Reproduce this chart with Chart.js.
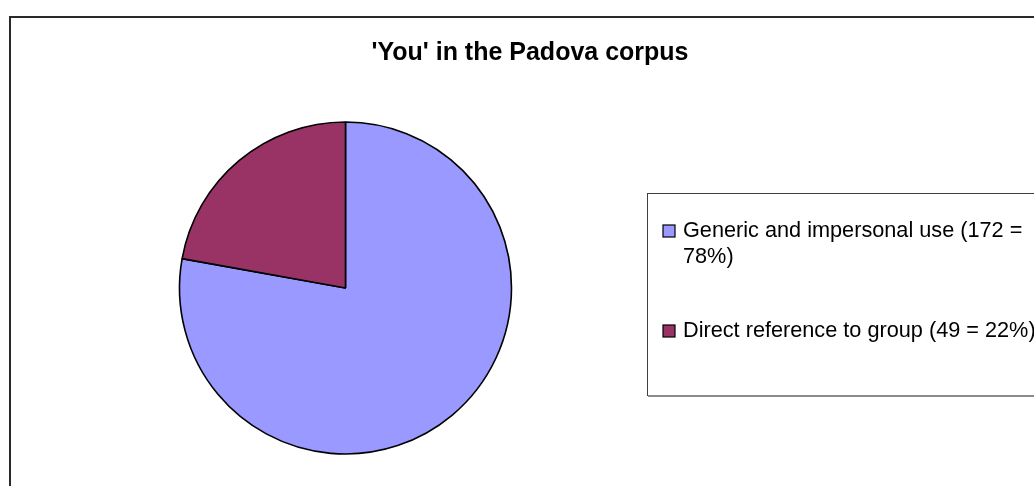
<!DOCTYPE html>
<html>
<head>
<meta charset="utf-8">
<script src="https://cdn.jsdelivr.net/npm/chart.js@4"></script>
<style>
  html, body { margin: 0; padding: 0; width: 1034px; height: 486px; overflow: hidden; background: #fff; }
  .frame { position: absolute; left: 9px; top: 16px; width: 1200px; height: 600px; border: 2px solid #2a2a2a; }
  #pie { position: absolute; left: 0; top: 0; }
</style>
</head>
<body>
<div class="frame"></div>
<canvas id="pie" width="1100" height="486"></canvas>
<script>
const chartTitle = "'You' in the Padova corpus";
const categories = [
  "Generic and impersonal use (172 = 78%)",
  "Direct reference to group (49 = 22%)",
];
const counts = [172, 49];
const sliceColors = ["#9999FF", "#993366"];

const FONT = "'Liberation Sans', Arial, Helvetica, sans-serif";

// split a label into lines no wider than maxWidth
function wrapText(ctx, text, maxWidth) {
  const words = text.split(" ");
  const lines = [];
  let line = "";
  words.forEach((w) => {
    const test = line ? line + " " + w : w;
    if (line && ctx.measureText(test).width > maxWidth) {
      lines.push(line);
      line = w;
    } else {
      line = test;
    }
  });
  if (line) lines.push(line);
  return lines;
}

const excelLook = {
  id: "excelLook",
  afterDraw(chart) {
    const ctx = chart.ctx;
    ctx.save();

    // title
    ctx.fillStyle = "#000";
    ctx.font = "bold 25px " + FONT;
    ctx.textAlign = "center";
    ctx.textBaseline = "alphabetic";
    ctx.fillText(chartTitle, 530, 60);

    // legend box
    ctx.strokeStyle = "#404040";
    ctx.lineWidth = 1;
    ctx.strokeRect(647.5, 193.5, 500, 202);
    ctx.strokeStyle = "#8a8a8a";
    ctx.lineWidth = 2;
    ctx.beginPath();
    ctx.moveTo(648, 396);
    ctx.lineTo(1100, 396);
    ctx.stroke();

    // legend items
    const ds = chart.data.datasets[0];
    const itemTops = [225, 325];
    ctx.font = "21.7px " + FONT;
    ctx.textAlign = "left";
    chart.data.labels.forEach((label, i) => {
      const y = itemTops[i];
      ctx.fillStyle = ds.backgroundColor[i];
      ctx.fillRect(663, y, 12, 12);
      ctx.strokeStyle = "#000";
      ctx.lineWidth = 1.2;
      ctx.strokeRect(663, y, 12, 12);
      ctx.fillStyle = "#000";
      const lines = wrapText(ctx, label, 360);
      lines.forEach((ln, j) => {
        ctx.fillText(ln, 683, y + 12 + j * 26);
      });
    });

    ctx.restore();
  },
};

new Chart(document.getElementById("pie"), {
  type: "pie",
  data: {
    labels: categories,
    datasets: [
      {
        data: counts,
        backgroundColor: sliceColors,
        borderColor: "#000",
        borderWidth: 1.6,
      },
    ],
  },
  options: {
    responsive: false,
    animation: false,
    radius: 166,
    layout: {
      padding: { left: 179, right: 588, top: 122, bottom: 32 },
    },
    plugins: {
      legend: { display: false },
      title: { display: false },
      tooltip: { enabled: false },
    },
  },
  plugins: [excelLook],
});
</script>
</body>
</html>
